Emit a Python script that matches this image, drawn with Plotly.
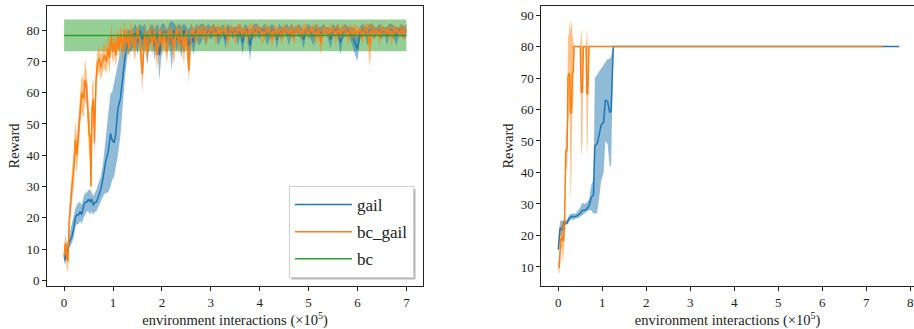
import numpy as np
import plotly.graph_objects as go

# ---------------- Left panel data (x in units of 1e5 interactions) ----------------
gail_x_early = [0.00,0.02,0.05,0.08,0.10,0.13,0.16,0.20,0.23,0.26,0.30,0.33,0.36,0.40,0.43,0.46,0.50,0.53,0.56,0.60,
                0.63,0.66,0.70,0.75,0.80,0.85,0.90,0.95,0.98,1.02,1.05,1.10,1.15,1.20,1.25,1.30,1.35,1.40]
gail_mean_early = [8,6.5,9,10,12,13,14,17,20,21,21,22,21,24,25,25,26,25,26,24,
                   25,25,27,29,33,38,41,47,45,44,46,55,58,65,72,76,77,78]
gail_lo_early = [6,5,7,8,10,11,12,14,17,18,18,19,18,20,21,22,22,21,22,21,
                 22,22,23,25,27,28,28,30,32,33,35,40,46,56,66,72,73,74]
gail_hi_early = [9,8,11,13,14,16,18,20,23,24,25,25,24,27,28,28,29,29,28,27,
                 28,29,31,33,38,45,52,60,60,63,66,70,73,76,78,80,80,80]

bcg_x_early = [0.00,0.03,0.06,0.08,0.10,0.13,0.16,0.20,0.23,0.26,0.30,0.33,0.36,0.40,0.43,0.46,0.48,0.51,0.53,0.55,
               0.57,0.60,0.62,0.65,0.68,0.72,0.75,0.78,0.82,0.86,0.90,0.93,0.96,1.00,1.03,1.06,1.10,1.13,1.16,1.20,
               1.23,1.26,1.30,1.33,1.36,1.40]
bcg_mean_early = [8,12,7,6,18,25,30,36,45,40,48,55,60,58,64,62,55,47,46,30,
                  55,58,44,63,69,71,68,70,72,70,74,71,78,73,76,72,78,74,79,73,
                  80,76,78,74,80,77]
bcg_std_early = [3,3,4,3,4,5,5,6,6,6,6,5,6,6,7,5,6,7,7,5,
                 8,6,5,6,4,4,4,4,4,4,4,5,4,4,4,4,3,4,3,4,
                 3,4,3,4,3,3]

tail_x = np.round(np.arange(1.45, 7.001, 0.05), 2)  # evaluation grid

gail_mean_tail = [79,76,80,77,79,74,78,80,75,79,
                  72,78,80,76,79,75,80,77,79,76,
                  80,78,75,79,76,80,78,79,80,78,
                  80,79,80,80,78,79,80,77,80,80,
                  79,80,78,80,76,80,80,75,79,80,
                  80,79,80,80,78,79,80,80,77,80,
                  79,80,80,78,80,79,80,80,79,77,
                  80,80,79,78,80,80,79,80,80,79,
                  77,80,80,80,76,79,80,80,79,78,
                  76,74,79,80,80,78,80,80,79,80,
                  80,79,80,78,80,80,79,78,80,80,
                  79,80]
gail_std_tail = [3,4,2,4,3,5,3,2,5,3,
                 8,4,2,4,3,8,2,4,3,5,
                 2,3,5,3,4,2,3,3,2,3,
                 2,2,2,1,3,2,2,3,2,1,
                 2,1,3,2,4,2,1,5,2,2,
                 2,2,1,2,3,2,2,1,3,2,
                 2,1,2,3,2,2,1,2,2,3,
                 1,2,2,3,2,1,2,2,1,2,
                 3,2,1,2,4,2,2,1,2,3,
                 4,4,2,2,1,3,2,2,2,1,
                 2,2,1,3,2,2,2,3,1,2,
                 2,2]

bcg_mean_tail = [74,80,76,66,79,73,80,76,79,72,
                 80,75,79,73,80,77,74,80,76,79,
                 73,80,67,80,79,78,80,79,80,78,
                 79,80,80,78,80,79,80,80,77,80,
                 80,78,80,80,79,80,78,80,80,79,
                 80,80,78,79,80,80,77,80,79,80,
                 78,80,80,79,80,78,80,80,79,80,
                 80,79,80,80,78,80,76,80,80,79,
                 80,80,78,80,79,80,80,78,80,79,
                 80,79,80,78,80,80,75,80,79,80,
                 78,80,80,79,80,78,80,80,79,80,
                 79,80]
bcg_std_tail = [4,2,4,6,3,4,2,4,3,5,
                2,4,3,4,2,3,5,2,4,3,
                4,2,4,2,2,3,2,2,2,3,
                2,1,2,3,2,2,1,2,3,2,
                1,3,2,2,2,1,3,2,2,2,
                2,1,3,2,2,1,3,2,2,1,
                3,2,1,2,2,3,2,1,2,2,
                2,2,1,2,3,2,4,2,1,2,
                2,1,3,2,2,2,1,3,2,2,
                2,2,1,3,2,2,7,2,2,1,
                3,2,1,2,2,3,2,1,2,2,
                2,2]

bc_x = [0.0, 7.0]
bc_mean = [78.3, 78.3]
bc_lo = [73.2, 73.2]
bc_hi = [83.4, 83.4]

# ---------------- Right panel data ----------------
r_gail_x = [0,0.02,0.04,0.06,0.08,0.10,0.12,0.15,0.20,0.25,0.30,0.35,0.40,0.45,0.50,0.55,0.60,0.65,0.70,0.75,
            0.80,0.83,0.88,0.93,0.97,1.03,1.07,1.12,1.17,1.20,1.25,7.75]
r_gail_mean = [15.5,18,22.5,22,22,21.5,24.5,24,24,25.5,26,26,26,26.5,27,28,28,28.5,29.5,32,
               33,48.5,49,52,55,56,63,62.5,59,59.5,80,80]
r_gail_lo = [15.5,16,20,20,19,19,23.5,23,23.5,24.5,25,25,25.5,25.5,26,26.5,27,27.5,28,28,
             27,27,27,32,37,40,50,49,42,42,80,80]
r_gail_hi = [15.5,20,25,24.5,24.5,24,25,25,25,26.5,27,27,27,28,29,30.5,30,30.5,31.5,36,
             38,70,71,72,73,74,75,76,76,77,80,80]

r_bcg_x = [0,0.02,0.04,0.06,0.08,0.10,0.12,0.14,0.17,0.20,0.22,0.24,0.26,0.28,0.30,0.32,0.34,0.36,0.40,0.50,
           0.52,0.55,0.57,0.63,0.65,0.67,0.70,7.38]
r_bcg_mean = [10,10,15,19,19.5,18.5,18.5,22,47,47,70,71.5,71,59,59,71.5,72,80,80,80,
              65.5,65.5,80,80,65,65,80,80]
r_bcg_lo = [8,8,10,15,16,11,12,18,43,40,55,58,60,30,40,60,62,80,80,80,
            45,50,80,80,45,50,80,80]
r_bcg_hi = [12,12,19,24,25,25,24,26,52,55,84,83,88,85,88.5,84,82,80,80,80,
            86,80,80,80,86,80,80,80]

x_tick_left = [0,1,2,3,4,5,6,7]
x_tick_right = [0,1,2,3,4,5,6,7,8]
y_tick_left = [0,10,20,30,40,50,60,70,80]
y_tick_right = [10,20,30,40,50,60,70,80,90]

# ---------------- assemble ----------------
gail_x = list(gail_x_early) + list(tail_x)
gail_mean = list(gail_mean_early) + gail_mean_tail
gail_lo = list(gail_lo_early) + [m - s for m, s in zip(gail_mean_tail, gail_std_tail)]
gail_hi = list(gail_hi_early) + [m + s for m, s in zip(gail_mean_tail, gail_std_tail)]

bcg_x = list(bcg_x_early) + list(tail_x)
bcg_mean = list(bcg_mean_early) + bcg_mean_tail
bcg_std = list(bcg_std_early) + bcg_std_tail
bcg_lo = [m - s for m, s in zip(bcg_mean, bcg_std)]
bcg_hi = [m + s for m, s in zip(bcg_mean, bcg_std)]

BLUE = "#1f77b4"
ORANGE = "#ff7f0e"
GREEN = "#2ca02c"
BLUE_F = "rgba(31,119,180,0.5)"
ORANGE_F = "rgba(255,127,14,0.5)"
GREEN_F = "rgba(44,160,44,0.5)"
FONT = "Liberation Serif"

fig = go.Figure()


def band(x, lo, hi, color, xa, ya, group):
    fig.add_trace(go.Scatter(x=list(x) + list(x)[::-1], y=list(hi) + list(lo)[::-1],
                             fill="toself", fillcolor=color, line=dict(width=0),
                             mode="lines", hoverinfo="skip", showlegend=False,
                             legendgroup=group, xaxis=xa, yaxis=ya))


def line(x, y, color, name, xa, ya, show):
    fig.add_trace(go.Scatter(x=x, y=y, mode="lines", line=dict(color=color, width=1.5),
                             name=name, showlegend=show, legendgroup=name,
                             xaxis=xa, yaxis=ya))


# left panel
band(bc_x, bc_lo, bc_hi, GREEN_F, "x", "y", "bc")
band(gail_x, gail_lo, gail_hi, BLUE_F, "x", "y", "gail")
line(gail_x, gail_mean, BLUE, "gail", "x", "y", True)
band(bcg_x, bcg_lo, bcg_hi, ORANGE_F, "x", "y", "bc_gail")
line(bcg_x, bcg_mean, ORANGE, "bc_gail", "x", "y", True)
line(bc_x, bc_mean, GREEN, "bc", "x", "y", True)

# right panel
band(r_gail_x, r_gail_lo, r_gail_hi, BLUE_F, "x2", "y2", "gail")
line(r_gail_x, r_gail_mean, BLUE, "gail", "x2", "y2", False)
band(r_bcg_x, r_bcg_lo, r_bcg_hi, ORANGE_F, "x2", "y2", "bc_gail")
line(r_bcg_x, r_bcg_mean, ORANGE, "bc_gail", "x2", "y2", False)

W, H = 914, 329
axis_common = dict(showgrid=False, zeroline=False, showline=True, linecolor="#222",
                   linewidth=1, ticks="outside", ticklen=4, tickcolor="#222",
                   tickfont=dict(family=FONT, size=13, color="#222"), automargin=False)

xtitle = dict(text="environment interactions (×10<sup>5</sup>)",
              font=dict(family=FONT, size=14.5, color="#222"), standoff=3)
ytitle = dict(text="Reward", font=dict(family=FONT, size=14.5, color="#222"), standoff=3)

fig.update_layout(
    width=W, height=H, margin=dict(l=0, r=0, t=0, b=0),
    paper_bgcolor="white", plot_bgcolor="white",
    font=dict(family=FONT, color="#222"),
    xaxis=dict(domain=[47 / W, 423 / W], range=[-0.35, 7.34], tickvals=x_tick_left,
               mirror=True, title=xtitle, anchor="y", **axis_common),
    yaxis=dict(domain=[1 - 286 / H, 1 - 6 / H], range=[-1.8, 87.7], tickvals=y_tick_left,
               mirror=True, title=ytitle, anchor="x", **axis_common),
    xaxis2=dict(domain=[541.3 / W, 1.0], range=[-0.386, 8.084], tickvals=x_tick_right,
                mirror=True, title=xtitle, anchor="y2", **axis_common),
    yaxis2=dict(domain=[1 - 286 / H, 1 - 6 / H], range=[3.96, 92.86], tickvals=y_tick_right,
                mirror=False, title=ytitle, anchor="x2", **axis_common),
    legend=dict(x=289 / W, y=1 - 186 / H, xanchor="left", yanchor="top",
                bgcolor="white", bordercolor="#d0d0d0", borderwidth=1,
                font=dict(family=FONT, size=17, color="#222"),
                itemwidth=57, tracegroupgap=2, traceorder="grouped"),
    shapes=[dict(type="rect", xref="paper", yref="paper",
                 x0=291.5 / W, x1=415.5 / W, y0=1 - 279.5 / H, y1=1 - 189 / H,
                 fillcolor="#b8b8b8", line=dict(width=0), layer="above")],
)

fig.write_html("out.html", config={"displayModeBar": False},
               post_script="document.body.style.margin='0';document.body.style.overflow='hidden';")
